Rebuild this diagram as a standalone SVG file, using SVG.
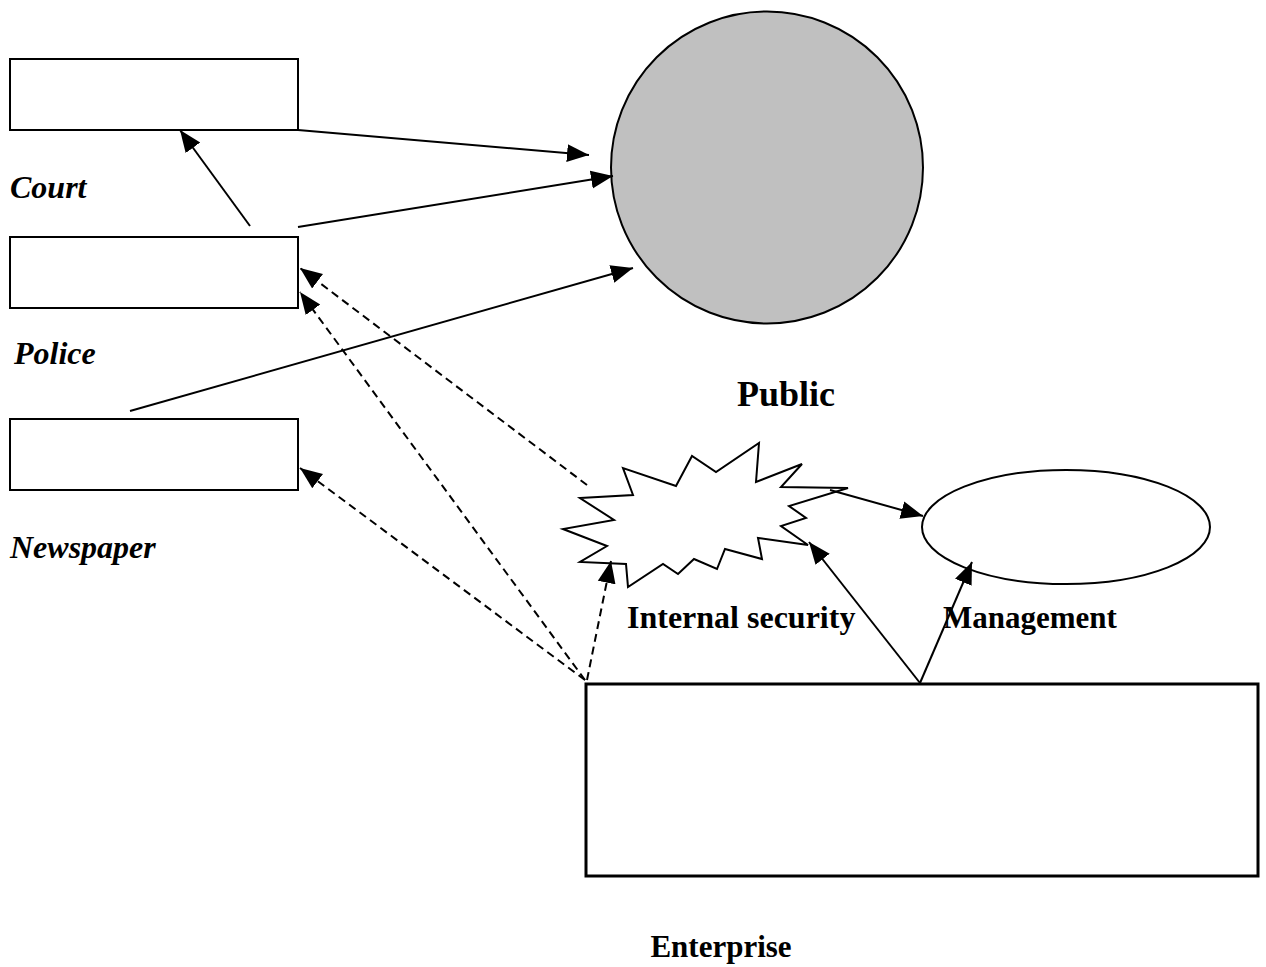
<svg xmlns="http://www.w3.org/2000/svg" width="1266" height="967" viewBox="0 0 1266 967">
<style>
.box{fill:#fff;stroke:#000;stroke-width:2}
.lbl{font-family:"Liberation Serif",serif;font-weight:bold;font-size:31px;fill:#000}
.it{font-style:italic;font-size:32px}
.c{stroke:#000;stroke-width:2;fill:none;marker-end:url(#ah)}
.d{stroke-dasharray:8 5}
</style>
<defs>
<marker id="ah" markerUnits="userSpaceOnUse" markerWidth="24" markerHeight="20" viewBox="0 0 24 20" refX="22" refY="10" orient="auto">
<path d="M0,1 L22,10 L0,19 Z" fill="#000"/>
</marker>
</defs>
<rect width="1266" height="967" fill="#fff"/>
<g id="court"><rect class="box" x="10" y="59" width="288" height="71"/><text class="lbl it" x="10" y="198">Court</text></g>
<g id="police"><rect class="box" x="10" y="237" width="288" height="71"/><text class="lbl it" x="14" y="364">Police</text></g>
<g id="newspaper"><rect class="box" x="10" y="419" width="288" height="71"/><text class="lbl it" x="10" y="558">Newspaper</text></g>
<g id="public"><circle cx="767" cy="167.5" r="156" fill="#c0c0c0" stroke="#000" stroke-width="2"/><text class="lbl" x="786" y="406" text-anchor="middle" style="font-size:36px">Public</text></g>
<g id="internal-security"><path d="M580,498 L633,495 L623,468 L676,486 L692,456 L716,472 L759,443 L756,482 L802,464 L781,487 L848,488 L789,506 L806,518 L781,526 L808,545 L758,538 L762,559 L725,549 L717,569 L694,559 L678,574 L663,564 L628,587 L626,564 L580,562 L607,546 L563,529 L614,520 Z" fill="#fff" stroke="#000" stroke-width="2" stroke-linejoin="miter"/><text class="lbl" x="627" y="628" style="font-size:32px">Internal security</text></g>
<g id="management"><ellipse cx="1066" cy="527" rx="144" ry="57" fill="#fff" stroke="#000" stroke-width="2"/><text class="lbl" x="943" y="628">Management</text></g>
<g id="enterprise"><rect x="586" y="684" width="672" height="192" fill="#fff" stroke="#000" stroke-width="3"/><text class="lbl" x="721" y="957" text-anchor="middle">Enterprise</text></g>
<g id="connectors">
<line class="c" x1="298" y1="130" x2="589" y2="155"/>
<line class="c" x1="298" y1="227" x2="613" y2="176"/>
<line class="c" x1="130" y1="411" x2="633" y2="268"/>
<line class="c" x1="250" y1="226" x2="180" y2="130"/>
<line class="c" x1="830" y1="490" x2="923" y2="516"/>
<line class="c" x1="920" y1="683" x2="809" y2="542"/>
<line class="c" x1="920" y1="683" x2="972" y2="562"/>
<line class="c d" x1="587" y1="485" x2="300" y2="268"/>
<line class="c d" x1="585" y1="680" x2="300" y2="292"/>
<line class="c d" x1="585" y1="680" x2="300" y2="468"/>
<line class="c d" x1="587" y1="680" x2="611" y2="561"/>
</g>
</svg>
